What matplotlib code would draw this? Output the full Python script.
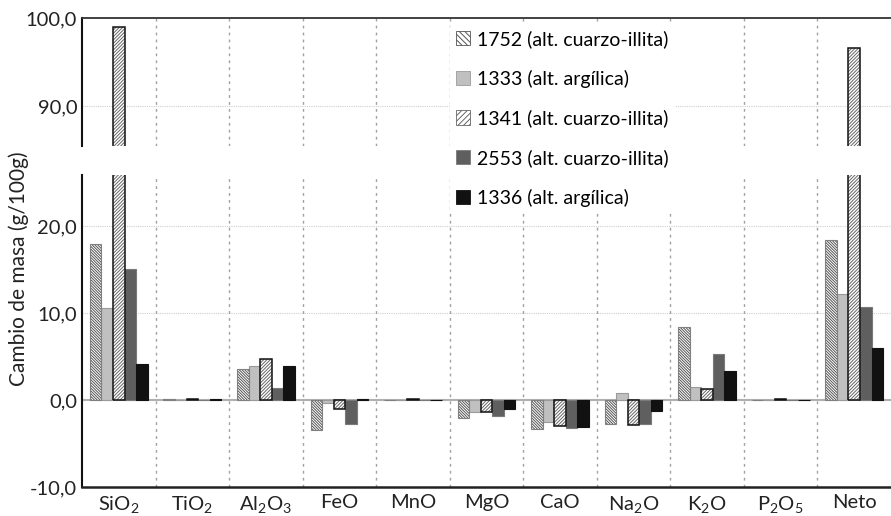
import matplotlib
matplotlib.use("Agg")
import matplotlib.pyplot as plt
from matplotlib.patches import Rectangle
import numpy as np

categories = ["SiO$_2$", "TiO$_2$", "Al$_2$O$_3$", "FeO", "MnO", "MgO", "CaO",
              "Na$_2$O", "K$_2$O", "P$_2$O$_5$", "Neto"]
series_names = ["1752 (alt. cuarzo-illita)", "1333 (alt. argílica)",
                "1341 (alt. cuarzo-illita)", "2553 (alt. cuarzo-illita)",
                "1336 (alt. argílica)"]
s1752 = [18.0, 0.10, 3.6, -3.45, 0.02, -2.1, -3.3, -2.75, 8.4, 0.02, 18.4]
s1333 = [10.6, 0.02, 3.95, -0.3, 0.02, -1.35, -2.5, 0.85, 1.55, 0.02, 12.25]
s1341 = [99.0, 0.10, 4.7, -1.0, 0.08, -1.35, -2.95, -2.85, 1.25, 0.08, 96.6]
s2553 = [15.05, 0.02, 1.35, -2.75, 0.02, -1.85, -3.25, -2.75, 5.3, 0.02, 10.7]
s1336 = [4.2, 0.10, 3.9, 0.10, 0.02, -1.0, -3.15, -1.25, 3.35, 0.02, 5.95]
series = [s1752, s1333, s1341, s2553, s1336]

plt.rcParams['font.family'] = ['Lato', 'DejaVu Sans']
plt.rcParams['mathtext.default'] = 'regular'
plt.rcParams['hatch.linewidth'] = 0.7

# (face, hatch line colour, hatch, outline colour, outline width)
styles = [
    ("white", "#555555", "\\" * 12, "#808080", 0.8),
    ("#c0c0c0", None, None, "#9a9a9a", 0.8),
    ("white", "#666666", "/" * 10, "#111111", 1.1),
    ("#5f5f5f", None, None, "#7a7a7a", 0.8),
    ("#111111", None, None, "#111111", 0.8),
]

W, H = 891, 516
fig = plt.figure(figsize=(W / 100, H / 100), dpi=100)
left = 82 / W
width = (W - 82) / W
ax_top = fig.add_axes([left, 1 - 146 / H, width, (146 - 18) / H])
ax_bot = fig.add_axes([left, 1 - 487 / H, width, (487 - 175) / H])

x = np.arange(len(categories))
bw = 0.157
offsets = (np.arange(5) - 2) * bw

for ax in (ax_top, ax_bot):
    for i, (vals, st) in enumerate(zip(series, styles)):
        face, hcol, hatch, ecol, lw = st
        if hatch:
            ax.bar(x + offsets[i], vals, bw, color=face, edgecolor=hcol,
                   linewidth=0, hatch=hatch, zorder=3)
            ax.bar(x + offsets[i], vals, bw, fill=False, edgecolor=ecol,
                   linewidth=lw, zorder=3.5)
        else:
            ax.bar(x + offsets[i], vals, bw, color=face, edgecolor=ecol,
                   linewidth=lw, zorder=3)
    ax.set_xlim(-0.5, len(categories) - 0.5)
    for d in np.arange(0.5, len(categories) - 0.5, 1):
        ax.axvline(d, color="#a0a0a0", ls=(0, (2, 3)), lw=1.0, zorder=1)
    ax.tick_params(axis="both", length=0, labelsize=14.5, colors="#222222")
    ax.spines["right"].set_visible(False)
    ax.spines["left"].set_color("#111111")
    ax.spines["left"].set_linewidth(1.5)

# top axes
ax_top.set_ylim(85.5, 100)
ax_top.set_yticks([90, 100])
ax_top.set_yticklabels(["90,0", "100,0"])
ax_top.spines["bottom"].set_visible(False)
ax_top.spines["top"].set_color("#333333")
ax_top.spines["top"].set_linewidth(1.3)
ax_top.set_xticks([])
ax_top.axhline(90, color="#d0d0d0", ls=(0, (1, 1)), lw=0.8, zorder=0)

# bottom axes
ax_bot.set_ylim(-10, 25.9)
ax_bot.set_yticks([-10, 0, 10, 20])
ax_bot.set_yticklabels(["-10,0", "0,0", "10,0", "20,0"])
ax_bot.spines["top"].set_visible(False)
ax_bot.spines["bottom"].set_color("#222222")
ax_bot.spines["bottom"].set_linewidth(1.8)
for yv in (10, 20):
    ax_bot.axhline(yv, color="#d0d0d0", ls=(0, (1, 1)), lw=0.8, zorder=0)
ax_bot.axhline(0, color="#b0b0b0", lw=1.5, zorder=2)
ax_bot.set_xticks(x)
ax_bot.set_xticklabels(categories, fontsize=14.5)
ax_bot.tick_params(axis="x", pad=5)
ax_bot.set_ylabel("Cambio de masa (g/100g)", fontsize=15, color="#222222")
ax_bot.yaxis.set_label_coords(-0.066, 0.70)

# legend built from the same series styles
handles = []
for face, hcol, hatch, ecol, lw in styles:
    if hatch:
        handles.append(Rectangle((0, 0), 1, 1, facecolor=face, edgecolor=hcol,
                                 hatch=hatch[:6], linewidth=0.6))
    else:
        handles.append(Rectangle((0, 0), 1, 1, facecolor=face, edgecolor=ecol,
                                 linewidth=0.6))
leg = fig.legend(handles, series_names, loc="upper left",
                 bbox_to_anchor=(450 / W, 1 - 24 / H), frameon=True,
                 fontsize=14, handlelength=0.75, handleheight=0.75,
                 handletextpad=0.35, labelspacing=1.12, borderpad=0.3,
                 borderaxespad=0)
leg.get_frame().set_facecolor("white")
leg.get_frame().set_edgecolor("none")
leg.get_frame().set_alpha(1.0)
leg.set_zorder(10)

fig.savefig("out.png", dpi=100)
